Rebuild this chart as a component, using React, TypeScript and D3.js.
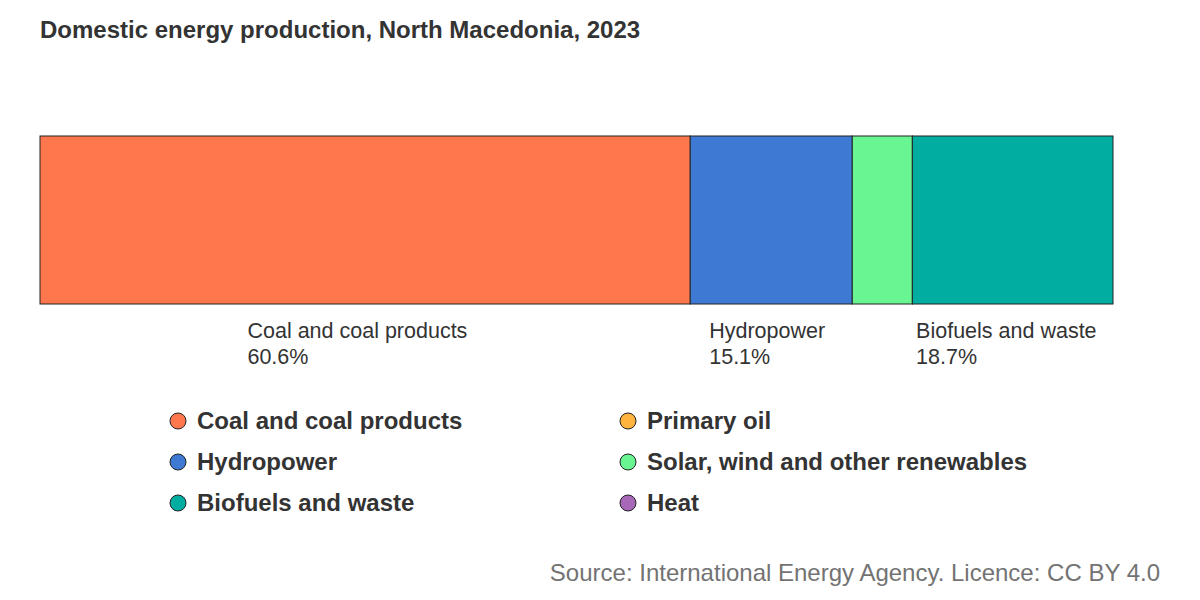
import React, { useRef, useEffect } from 'react';
import * as d3 from 'd3';

// shares of domestic production, % (2023)
const categories = [
  'Coal and coal products',
  'Primary oil',
  'Hydropower',
  'Solar, wind and other renewables',
  'Biofuels and waste',
  'Heat',
];
const shares = [60.6, 0, 15.1, 5.6, 18.7, 0];
const colors = ['#ff774d', '#ffb43f', '#3e79d3', '#6af593', '#00ada0', '#a868b8'];
// order the segments appear in the bar
const barOrder = [0, 1, 2, 3, 4, 5];
// legend laid out in two columns
const legendOrder = [0, 2, 4, 1, 3, 5];

const W = 1200;
const H = 600;
const FONT = '"Liberation Sans", Arial, sans-serif';

export default function App() {
  const svgRef = useRef(null);

  useEffect(() => {
    const svg = d3.select(svgRef.current);
    svg.selectAll('*').remove();

    svg.append('text')
      .attr('x', 40)
      .attr('y', 38)
      .attr('font-family', FONT)
      .attr('font-size', 24)
      .attr('font-weight', 'bold')
      .attr('fill', '#333')
      .text('Domestic energy production, North Macedonia, 2023');

    const total = d3.sum(shares);
    const x = d3.scaleLinear().domain([0, total]).range([40, 1113]);
    const barTop = 136;
    const barH = 168;

    let acc = 0;
    const segs = barOrder.map((i) => {
      const s = { i, x0: acc, x1: acc + shares[i] };
      acc += shares[i];
      return s;
    }).filter((s) => shares[s.i] > 0);

    svg.append('g')
      .selectAll('rect')
      .data(segs)
      .join('rect')
      .attr('x', (d) => x(d.x0))
      .attr('y', barTop)
      .attr('width', (d) => x(d.x1) - x(d.x0))
      .attr('height', barH)
      .attr('fill', (d) => colors[d.i])
      .attr('stroke', '#222')
      .attr('stroke-width', 1);

    // labels under segments that are wide enough
    const lab = svg.append('g');
    segs.filter((s) => shares[s.i] >= 10).forEach((s) => {
      const cx = (x(s.x0) + x(s.x1)) / 2;
      const t = lab.append('text')
        .attr('font-family', FONT)
        .attr('font-size', 21.5)
        .attr('fill', '#333');
      const l1 = t.append('tspan').attr('y', 338).text(categories[s.i]);
      t.append('tspan').attr('y', 364).text(shares[s.i].toFixed(1) + '%');
      // block is centred a little wide of the measured text
      const w = (l1.node() as any).getComputedTextLength() * 1.07;
      t.selectAll('tspan').attr('x', cx - w / 2);
    });

    // legend
    const leg = svg.append('g');
    legendOrder.forEach((ci, k) => {
      const col = Math.floor(k / 3);
      const row = k % 3;
      const lx = 178 + col * 450;
      const ly = 421 + row * 41;
      leg.append('circle')
        .attr('cx', lx)
        .attr('cy', ly)
        .attr('r', 8)
        .attr('fill', colors[ci])
        .attr('stroke', '#222')
        .attr('stroke-width', 1);
      leg.append('text')
        .attr('x', lx + 19)
        .attr('y', ly + 8)
        .attr('font-family', FONT)
        .attr('font-size', 24)
        .attr('font-weight', 'bold')
        .attr('fill', '#333')
        .text(categories[ci]);
    });

    svg.append('text')
      .attr('x', 1160)
      .attr('y', 581)
      .attr('text-anchor', 'end')
      .attr('font-family', FONT)
      .attr('font-size', 24)
      .attr('fill', '#737373')
      .text('Source: International Energy Agency. Licence: CC BY 4.0');
  }, []);

  return (
    <svg
      ref={svgRef}
      width={W}
      height={H}
      style={{ position: 'absolute', left: 0, top: 0, background: '#fff' }}
    />
  );
}
